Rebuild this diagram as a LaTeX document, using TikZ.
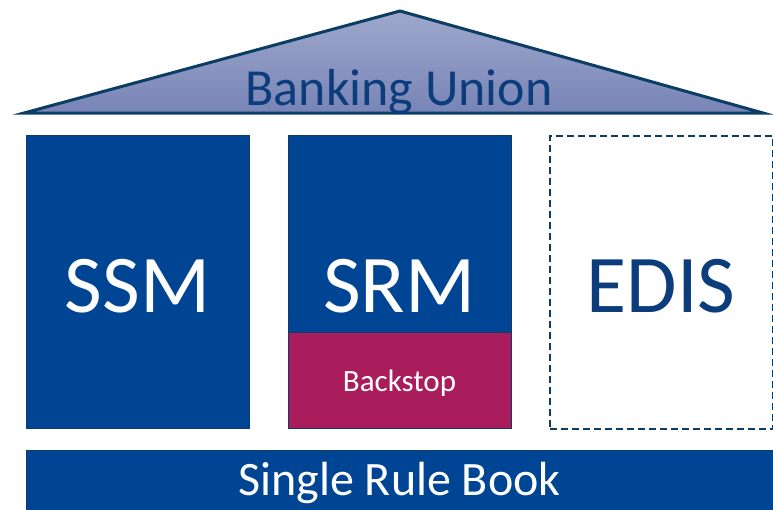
\documentclass[tikz,border=0pt]{standalone}
\usepackage{fontspec}
\setmainfont{Carlito}
\usetikzlibrary{positioning}
\definecolor{pillarblue}{HTML}{004494}
\definecolor{pillarline}{HTML}{0F3A6B}
\definecolor{roofline}{HTML}{0C3D64}
\definecolor{rooftop}{HTML}{9EA8CC}
\definecolor{roofbottom}{HTML}{7884B6}
\definecolor{backstopred}{HTML}{A91D5C}
\definecolor{labelblue}{HTML}{0B3C7C}

\begin{document}
\begin{tikzpicture}
[ x=1pt, y=-1pt
, pillar/.style={rectangle, draw=pillarline, line width=1.2pt, fill=pillarblue, inner sep=0pt, anchor=north west, minimum width=223pt, minimum height=293pt}
, future/.style={pillar, fill=white, draw=roofline, line width=2pt, dash pattern=on 7pt off 4pt}
, backstop/.style={pillar, fill=backstopred, minimum height=96pt}
, base/.style={pillar, minimum width=760pt, minimum height=70pt}
, biglabel/.style={anchor=base, inner sep=0pt, text=white, font=\fontsize{82}{82}\selectfont}
, smalllabel/.style={anchor=base, inner sep=0pt, text=white, font=\fontsize{31}{31}\selectfont}
, roof/.style={draw=roofline, line width=3pt, line join=miter, top color=rooftop, bottom color=roofbottom}
]
\useasboundingbox (0,0) rectangle (773,509);
% roof
\coordinate (eaveL) at (24,113);
\coordinate (apex) at (400,11);
\coordinate (eaveR) at (763,113);
\draw [roof] (eaveL) -- (apex) -- (eaveR) -- cycle;
\node (union) [anchor=base, inner sep=0pt, text=labelblue, font=\fontsize{52}{52}\selectfont] at (399,105) {Banking Union};
% pillars
\node (ssm) [pillar] at (26,135) {};
\node (srm) [pillar] at (288,135) {};
\node (edis) [future] at (549,135) {};
\node (backstop) [backstop] at (288,332) {};
% foundation
\node (rulebook) [base] at (26,450) {};
% labels
\node (ssmtext) [biglabel] at (137.5,312) {SSM};
\node (srmtext) [biglabel] at (399.5,312) {SRM};
\node (edistext) [biglabel, text=labelblue] at (661,312) {EDIS};
\node (backstoptext) [smalllabel] at (399.5,391) {Backstop};
\node (rulebooktext) [anchor=base, inner sep=0pt, text=white, font=\fontsize{48}{48}\selectfont] at (399.5,495) {Single Rule Book};
\end{tikzpicture}
\end{document}
